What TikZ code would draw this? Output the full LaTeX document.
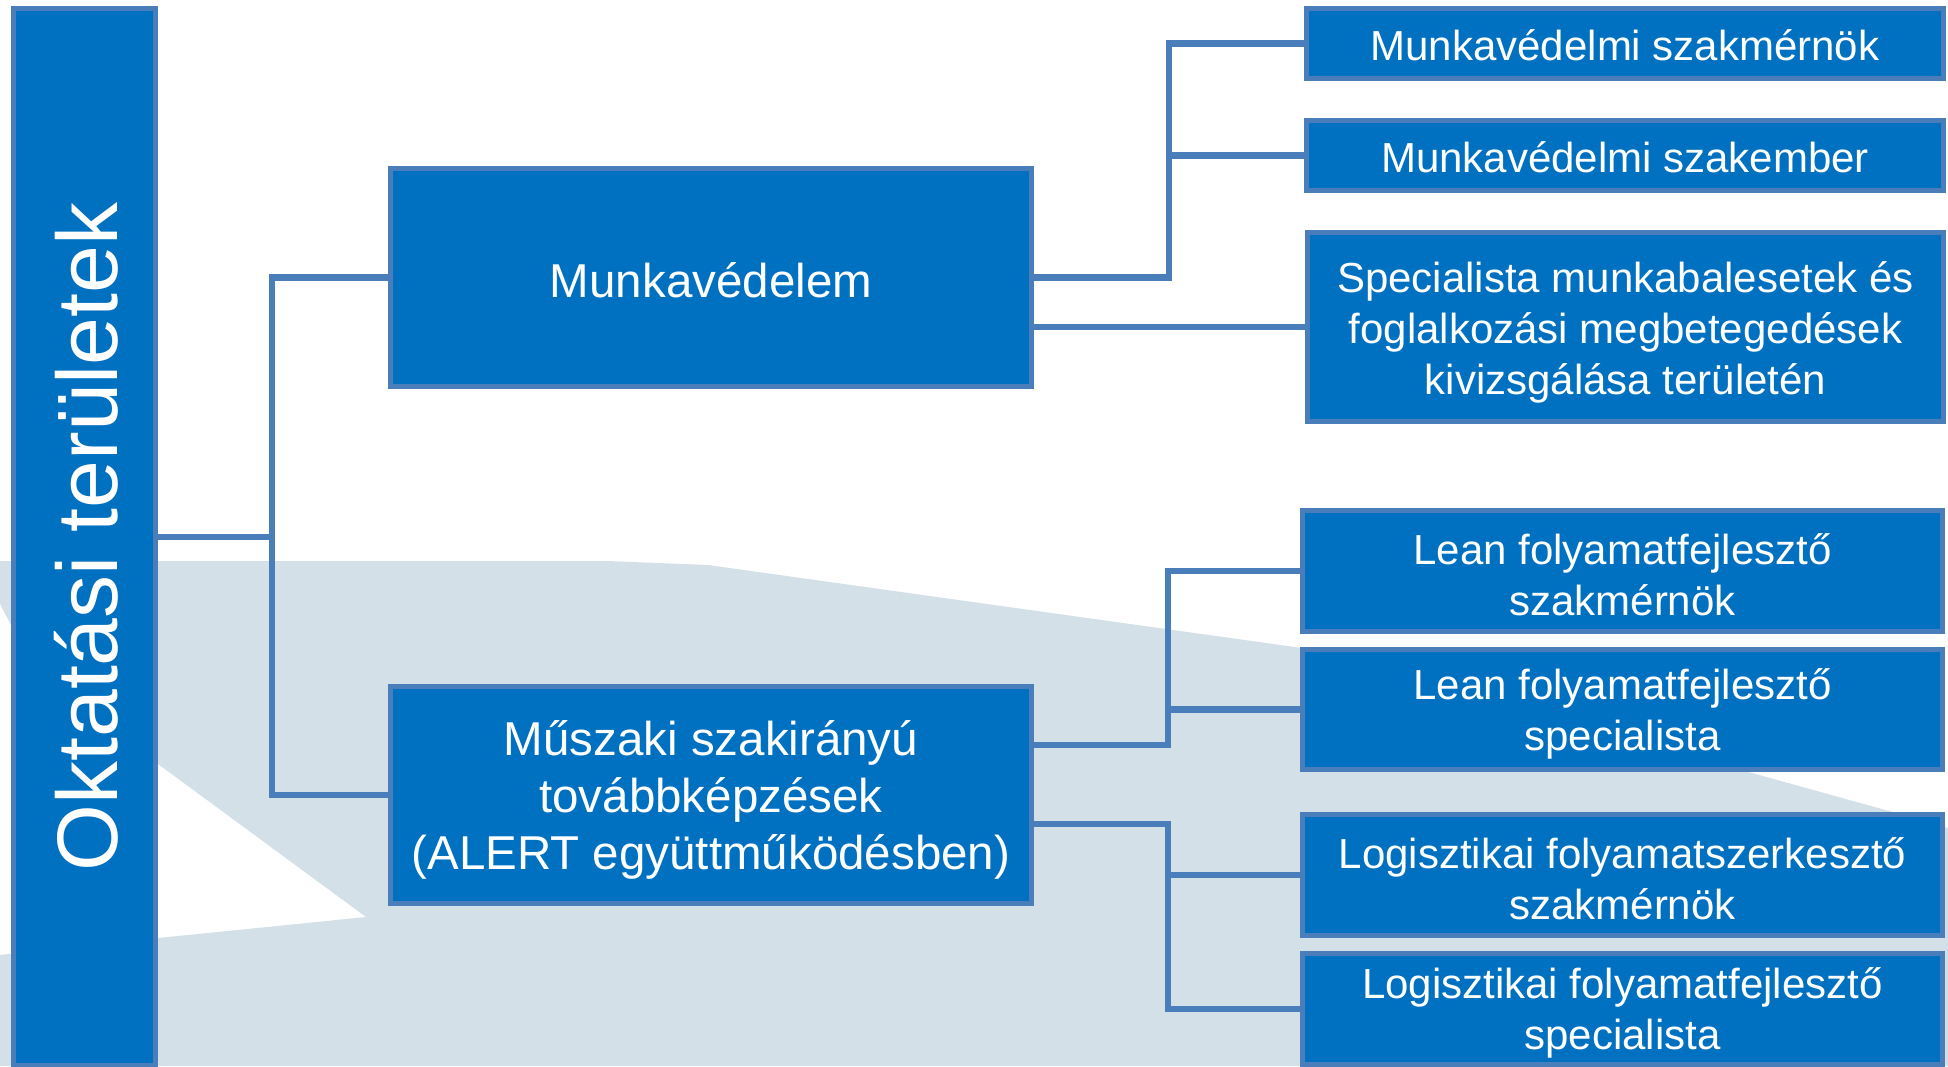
\documentclass[tikz,border=0pt]{standalone}
\usepackage{fontspec}
\setmainfont{Liberation Sans}
\definecolor{boxfill}{HTML}{0070C0}
\definecolor{boxline}{HTML}{4A7EBB}
\definecolor{bggray}{HTML}{D4E0E8}
\begin{document}
\begin{tikzpicture}[x=1pt,y=-1pt,
  box/.style={draw=boxline,fill=boxfill,line width=5pt,inner sep=0pt,outer sep=0pt},
  bigbox/.style={box,minimum width=641pt},
  rbox/.style={box},
  bigtxt/.style={text=white,align=center,inner sep=0pt,font=\fontsize{47.5}{57}\selectfont},
  rtxt/.style={text=white,align=center,inner sep=0pt,font=\fontsize{42}{51}\selectfont},
  conn/.style={draw=boxline,line width=6.5pt,line join=miter}]
\useasboundingbox (0,0) rectangle (1948,1066);
\clip (0,0) rectangle (1948,1066);
% background shape
\fill[bggray] (0,561) -- (607,561) -- (708,565) -- (1302,648) -- (1889,811) -- (1948,828)
  -- (1948,1066) -- (0,1066) -- (0,955) -- (158,938) -- (366,917) -- (158,764)
  -- (11,625) -- (0,604) -- cycle;
% boxes
\node[box,minimum width=142pt,minimum height=1057pt] (left) at (84.5,537) {};
\node[bigbox,minimum height=218pt] (munka) at (711,277.5) {};
\node[bigbox,minimum height=217pt] (muszaki) at (711,795) {};
\node[rbox,minimum width=637pt,minimum height=70pt] (r1) at (1625,43.5) {};
\node[rbox,minimum width=637pt,minimum height=70pt] (r2) at (1625,155.5) {};
\node[rbox,minimum width=636pt,minimum height=189pt] (r3) at (1625.5,327) {};
\node[rbox,minimum width=640pt,minimum height=121pt] (r4) at (1622.5,571) {};
\node[rbox,minimum width=640pt,minimum height=120pt] (r5) at (1622.5,709.5) {};
\node[rbox,minimum width=640pt,minimum height=121pt] (r6) at (1622.5,875) {};
\node[rbox,minimum width=640pt,minimum height=111pt] (r7) at (1622.5,1009) {};
% texts
\node[rotate=90,text=white,font=\fontsize{86}{96}\selectfont,anchor=base] (lefttext) at (117,537) {Oktatási területek};
\node[bigtxt] (munkat) at ([yshift=-3pt]munka.center) {Munkavédelem};
\node[bigtxt] (muszakit) at ([yshift=-5pt]muszaki.center) {Műszaki szakirányú\\továbbképzések\\(ALERT együttműködésben)};
\node[rtxt] (r1t) at ([yshift=-2pt]r1.center) {Munkavédelmi szakmérnök};
\node[rtxt] (r2t) at ([yshift=-2pt]r2.center) {Munkavédelmi szakember};
\node[rtxt] (r3t) at ([yshift=-5pt]r3.center) {Specialista munkabalesetek és\\foglalkozási megbetegedések\\kivizsgálása területén};
\node[rtxt] (r4t) at ([yshift=-4pt]r4.center) {Lean folyamatfejlesztő\\szakmérnök};
\node[rtxt] (r5t) at ([yshift=-4pt]r5.center) {Lean folyamatfejlesztő\\specialista};
\node[rtxt] (r6t) at ([yshift=-4pt]r6.center) {Logisztikai folyamatszerkesztő\\szakmérnök};
\node[rtxt] (r7t) at ([yshift=-4pt]r7.center) {Logisztikai folyamatfejlesztő\\specialista};
% junctions
\coordinate (j1) at (272,537);
\coordinate (j2) at (1169,277.5);
\coordinate (j3) at (1168,745);
\coordinate (j4) at (1168,824);
% connectors
\draw[conn] (left.east |- j1) -- (j1);
\draw[conn] (munka.west) -| (j1) |- (muszaki.west);
\draw[conn] (munka.east) -- (j2) |- (r1.west);
\draw[conn] (j2 |- r2.west) -- (r2.west);
\draw[conn] (munka.east |- r3.west) -- (r3.west);
\draw[conn] (muszaki.east |- j3) -- (j3) |- (r4.west);
\draw[conn] (j3 |- r5.west) -- (r5.west);
\draw[conn] (muszaki.east |- j4) -- (j4) |- (r7.west);
\draw[conn] (j4 |- r6.west) -- (r6.west);
\end{tikzpicture}
\end{document}
